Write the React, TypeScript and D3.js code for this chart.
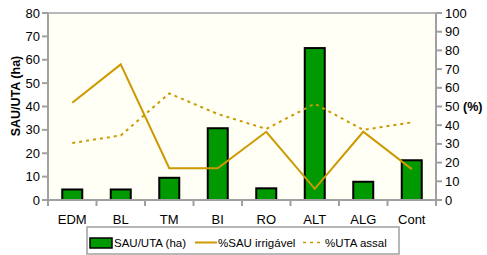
import React from "react";
import * as d3 from "d3";

const categories = ["EDM", "BL", "TM", "BI", "RO", "ALT", "ALG", "Cont"];
const sauUta = [4.5, 4.5, 9.5, 30.7, 5, 65, 7.8, 17];
const pctSauIrrigavel = [52, 72.5, 17, 17, 36.5, 6, 36.5, 16.5];
const pctUtaAssal = [30.5, 34.5, 57, 46, 38, 51.5, 37.5, 41.5];
const leftTicks = [0, 10, 20, 30, 40, 50, 60, 70, 80];
const rightTicks = [0, 10, 20, 30, 40, 50, 60, 70, 80, 90, 100];

const W = 487, H = 255;
const M = { left: 48, right: 436, top: 13, bottom: 200 };
const gold = "#CC9900";
const axisGray = "#A0A0A0";
const font = "'Liberation Sans', Arial, sans-serif";

export default function App() {
  const x = d3.scaleBand<string>().domain(categories).range([M.left, M.right]);
  const yL = d3.scaleLinear().domain([0, 80]).range([M.bottom, M.top]);
  const yR = d3.scaleLinear().domain([0, 100]).range([M.bottom, M.top]);
  const cx = (c: string) => (x(c) as number) + x.bandwidth() / 2;
  const barW = 20;

  const line = d3
    .line<number>()
    .x((_, i) => cx(categories[i]))
    .y((d) => yR(d));

  const boundaries = d3.range(categories.length + 1).map((i) => M.left + i * x.step());

  return (
    <svg width={W} height={H} style={{ position: "absolute", left: 0, top: 0 }} fontFamily={font}>
      <rect x={M.left} y={M.top} width={M.right - M.left} height={M.bottom - M.top} fill="#FFFFF6" />
      <line x1={M.left} x2={M.right} y1={M.top} y2={M.top} stroke={axisGray} strokeWidth={1.5} />
      {categories.map((c, i) => (
        <rect
          key={c}
          x={cx(c) - barW / 2}
          y={yL(sauUta[i])}
          width={barW}
          height={M.bottom - yL(sauUta[i])}
          fill="#009900"
          stroke="#000"
          strokeWidth={2}
        />
      ))}
      <path d={line(pctUtaAssal) || ""} fill="none" stroke={gold} strokeWidth={2} strokeDasharray="3,4" />
      <path d={line(pctSauIrrigavel) || ""} fill="none" stroke={gold} strokeWidth={2} />
      <line x1={M.left} x2={M.left} y1={M.top} y2={M.bottom} stroke={axisGray} strokeWidth={2} />
      <line x1={M.right} x2={M.right} y1={M.top} y2={M.bottom} stroke={axisGray} strokeWidth={2} />
      <line x1={M.left} x2={M.right} y1={M.bottom} y2={M.bottom} stroke={axisGray} strokeWidth={2} />
      {leftTicks.map((t) => (
        <g key={"l" + t}>
          <line x1={M.left - 6} x2={M.left} y1={yL(t)} y2={yL(t)} stroke={axisGray} strokeWidth={2} />
          <text x={M.left - 8} y={yL(t)} dy="0.35em" textAnchor="end" fontSize={13} fill="#000">
            {t}
          </text>
        </g>
      ))}
      {rightTicks.map((t) => (
        <g key={"r" + t}>
          <line x1={M.right} x2={M.right + 6} y1={yR(t)} y2={yR(t)} stroke={axisGray} strokeWidth={2} />
          <text x={M.right + 9} y={yR(t)} dy="0.35em" textAnchor="start" fontSize={13} fill="#000">
            {t}
          </text>
        </g>
      ))}
      {boundaries.map((b, i) => (
        <line key={"b" + i} x1={b} x2={b} y1={M.bottom} y2={M.bottom + 6} stroke={axisGray} strokeWidth={2} />
      ))}
      {categories.map((c) => (
        <text key={"c" + c} x={cx(c)} y={224} textAnchor="middle" fontSize={13} fill="#000">
          {c}
        </text>
      ))}
      <text
        transform={`translate(20,96) rotate(-90)`}
        textAnchor="middle"
        fontSize={12.5}
        fontWeight="bold"
        fill="#000"
      >
        SAU/UTA (ha)
      </text>
      <text x={463} y={yR(50)} dy="0.35em" fontSize={12.5} fontWeight="bold" fill="#000">
        (%)
      </text>
      <rect x={87} y={227} width={312} height={27} fill="#fff" stroke={axisGray} strokeWidth={1.5} />
      <rect x={90} y={238} width={22} height={10} fill="#009900" stroke="#000" strokeWidth={1.5} />
      <text x={114} y={247} fontSize={11.5} fill="#000">SAU/UTA (ha)</text>
      <line x1={195} x2={217} y1={242.5} y2={242.5} stroke={gold} strokeWidth={2} />
      <text x={218} y={247} fontSize={11.5} fill="#000">%SAU irrigável</text>
      <line x1={303} x2={320} y1={242.5} y2={242.5} stroke={gold} strokeWidth={1.5} strokeDasharray="3,4" />
      <text x={325} y={247} fontSize={11.5} fill="#000">%UTA assal</text>
    </svg>
  );
}
